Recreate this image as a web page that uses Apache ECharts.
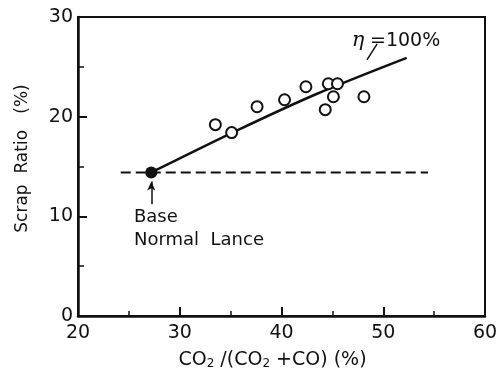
<!DOCTYPE html>
<html>
<head>
<meta charset="utf-8">
<script src="https://cdn.jsdelivr.net/npm/echarts@6/dist/echarts.min.js"></script>
<style>
  html, body { margin: 0; padding: 0; background: #fff; }
  #chart { width: 503px; height: 376px; }
</style>
</head>
<body>
<div id="chart"></div>
<script>
// Axis ranges and ticks
const xTicks = [20, 30, 40, 50, 60];
const yTicks = [0, 10, 20, 30];

// Measured scrap ratio vs. post-combustion ratio (open circles)
const measuredX = [33.5, 35.1, 37.6, 40.3, 42.4, 44.6, 45.5, 45.1, 44.3, 48.1];
const measuredY = [19.2, 18.4, 21.0, 21.7, 23.0, 23.3, 23.3, 22.0, 20.7, 22.0];

// Base case: normal lance
const baseX = [27.2];
const baseY = [14.4];

// Calculated curve for eta = 100 %
const curveX = [27.2, 35.8, 43.5, 52.3];
const curveY = [14.4, 18.7, 22.3, 25.9];

// Base level reference (dashed)
const baseLineX = [24.2, 54.4];
const baseLineY = [14.4, 14.4];

// Leader from the eta label down to the curve
const leaderX = [48.4, 49.4];
const leaderY = [25.7, 27.3];

// Arrow pointing at the base point
const arrowX = [27.2, 27.2];
const arrowY = [11.2, 13.5];

const zip = (xs, ys) => xs.map((x, i) => [x, ys[i]]);

const FONT = 'DejaVu Sans';
const INK = '#111';

const chart = echarts.init(document.getElementById('chart'), null, { renderer: 'canvas' });

chart.setOption({
  animation: false,
  backgroundColor: '#fff',
  grid: {
    left: 78, right: 18, top: 17, bottom: 60,
    show: true, borderColor: INK, borderWidth: 2
  },
  xAxis: {
    type: 'value',
    min: xTicks[0], max: xTicks[xTicks.length - 1], interval: 10,
    name: 'CO{s|2} /(CO{s|2} +CO) (%)',
    nameLocation: 'middle',
    nameGap: 35,
    nameTextStyle: {
      fontFamily: FONT, fontSize: 19, color: INK, padding: [0, 18, 0, 0],
      rich: { s: { fontFamily: FONT, fontSize: 12, color: INK, padding: [7, 0, 0, 0] } }
    },
    axisLine: { show: true, lineStyle: { color: INK, width: 2.5 } },
    axisTick: { show: true, inside: true, length: 9, lineStyle: { color: INK, width: 2 } },
    minorTick: { show: true, splitNumber: 2, length: 5, lineStyle: { color: INK, width: 1.5 } },
    splitLine: { show: false },
    axisLabel: { fontFamily: FONT, fontSize: 19, color: INK, margin: 8 }
  },
  yAxis: {
    type: 'value',
    min: yTicks[0], max: yTicks[yTicks.length - 1], interval: 10,
    name: 'Scrap  Ratio   (%)',
    nameLocation: 'middle',
    nameGap: 47,
    nameTextStyle: { fontFamily: FONT, fontSize: 17, color: INK, padding: [0, 0, 0, 16] },
    axisLine: { show: true, lineStyle: { color: INK, width: 2.5 } },
    axisTick: { show: true, inside: true, length: 9, lineStyle: { color: INK, width: 2 } },
    minorTick: { show: true, splitNumber: 2, length: 6, lineStyle: { color: INK, width: 1.5 } },
    splitLine: { show: false },
    axisLabel: { fontFamily: FONT, fontSize: 19, color: INK, margin: 5 }
  },
  series: [
    {
      name: 'base level',
      type: 'line',
      data: zip(baseLineX, baseLineY),
      showSymbol: false, symbol: 'none',
      lineStyle: { color: INK, width: 2, type: [10, 5] },
      z: 2
    },
    {
      name: 'eta 100%',
      type: 'line',
      data: zip(curveX, curveY),
      smooth: 0.3,
      showSymbol: false, symbol: 'none',
      lineStyle: { color: INK, width: 2.5 },
      z: 3
    },
    {
      name: 'leader',
      type: 'line',
      data: zip(leaderX, leaderY),
      showSymbol: false, symbol: 'none',
      lineStyle: { color: INK, width: 1.5 },
      z: 3,
      markLine: {
        silent: true,
        symbol: ['none', 'arrow'],
        symbolSize: [6, 9],
        label: { show: false },
        lineStyle: { color: INK, width: 1.5, type: 'solid' },
        data: [[{ coord: [arrowX[0], arrowY[0]] }, { coord: [arrowX[1], arrowY[1]] }]]
      }
    },
    {
      name: 'measured',
      type: 'scatter',
      data: zip(measuredX, measuredY),
      symbol: 'circle',
      symbolSize: 11,
      itemStyle: { color: '#fff', borderColor: INK, borderWidth: 2, opacity: 1 },
      z: 4
    },
    {
      name: 'base',
      type: 'scatter',
      data: zip(baseX, baseY),
      symbol: 'circle',
      symbolSize: 12,
      itemStyle: { color: INK, opacity: 1 },
      z: 5
    },
    {
      name: 'notes',
      type: 'scatter',
      symbolSize: 0,
      silent: true,
      itemStyle: { opacity: 1 },
      data: [
        { value: [46.9, 27.6], label: { formatter: '{e|η} {t|=100%}' } },
        { value: [25.5, 9.9], label: { formatter: 'Base' } },
        { value: [25.5, 7.6], label: { formatter: 'Normal  Lance' } }
      ],
      label: {
        show: true, position: 'right', distance: 0, opacity: 1,
        fontFamily: FONT, fontSize: 18, color: INK,
        rich: {
          e: { fontFamily: 'DejaVu Serif', fontStyle: 'italic', fontSize: 21, color: INK },
          t: { fontFamily: FONT, fontSize: 19, color: INK }
        }
      },
      z: 6
    }
  ]
});
</script>
</body>
</html>
